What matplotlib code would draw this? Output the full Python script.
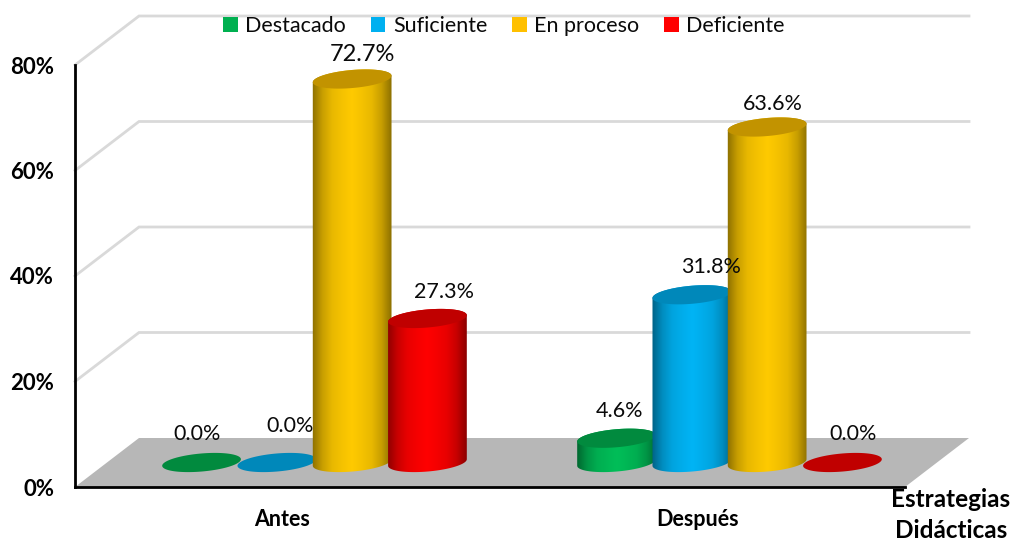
import numpy as np
import matplotlib
matplotlib.use("Agg")
import matplotlib.pyplot as plt
from matplotlib.colors import LinearSegmentedColormap
from matplotlib.patches import Polygon, Rectangle

plt.rcParams["font.family"] = ["Lato", "DejaVu Sans"]

categories = ["Antes", "Después"]
series_names = ["Destacado", "Suficiente", "En proceso", "Deficiente"]
antes = [0.0, 0.0, 72.7, 27.3]
despues = [4.6, 31.8, 63.6, 0.0]
y_ticks = [0, 20, 40, 60, 80]

side_colors = ["#00BE58", "#00B4F5", "#FFCA00", "#FF0000"]
top_colors = ["#018A3E", "#0088BA", "#C29300", "#C00000"]

# label offsets from the top of each cylinder, in pixels
antes_label_px = [(-4, 28), (13, 36), (10, 25), (17, 26)]
despues_label_px = [(3, 27), (19, 28), (6, 23), (11, 28)]

W, H = 1014, 541
PX_X = 2 / 830  # data units per pixel
PX_Y = 80 / 422
DEPTH_X, DEPTH_Y = 64 * PX_X, 49 * PX_Y
BAR_STEP = 75.3 * PX_X
A_PX, B_PX, TILT = 39.5, 9.0, np.radians(5)

fig = plt.figure(figsize=(W / 100, H / 100), dpi=100)
ax = fig.add_axes([75 / W, (H - 487) / H, 830 / W, 422 / H])
ax.set_facecolor("none")


def ellipse_xy(cx, cy, t):
    px = A_PX * np.cos(t) * np.cos(TILT) - B_PX * np.sin(t) * np.sin(TILT)
    py = A_PX * np.cos(t) * np.sin(TILT) + B_PX * np.sin(t) * np.cos(TILT)
    return np.column_stack([cx + px * PX_X, cy + py * PX_Y])


def draw_cylinder(cx, value, side, top, z):
    base = DEPTH_Y / 2
    t_right = np.arctan2(-B_PX * np.sin(TILT), A_PX * np.cos(TILT))
    t_all = np.linspace(0, 2 * np.pi, 120)
    if value > 0:
        lower = ellipse_xy(cx, base, np.linspace(t_right - np.pi, t_right, 60))
        upper = ellipse_xy(cx, base + value, np.linspace(t_right, t_right + np.pi, 60))
        body = Polygon(np.vstack([lower, upper]), closed=True, transform=ax.transData,
                       fc="none", ec="none")
        ax.add_patch(body)
        rgb = np.array(matplotlib.colors.to_rgb(side))
        shades = [0.55, 0.78, 0.91, 0.96, 1, 0.96, 0.91, 0.78, 0.55]
        cmap = LinearSegmentedColormap.from_list("cyl", [rgb * s for s in shades])
        im = ax.imshow(
            np.linspace(0, 1, 200)[None, :], cmap=cmap, aspect="auto", zorder=z,
            extent=[cx - 40 * PX_X, cx + 40 * PX_X, base - 12 * PX_Y, base + value + 12 * PX_Y],
        )
        im.set_clip_path(body)
    ax.add_patch(Polygon(ellipse_xy(cx, base + value, t_all), closed=True,
                         fc=top, ec="none", zorder=z + 0.1))
    return base + value + B_PX * PX_Y


# back wall grid lines
for v in y_ticks[1:]:
    ax.plot([0, DEPTH_X, 2 + DEPTH_X], [v, v + DEPTH_Y, v + DEPTH_Y], color="#D9D9D9",
            lw=2, clip_on=False, zorder=1, solid_joinstyle="miter")

# floor
ax.add_patch(Polygon([(0, 0), (DEPTH_X, DEPTH_Y), (2 + DEPTH_X, DEPTH_Y), (2, 0)],
                     closed=True, fc="#B7B7B7", ec="none", clip_on=False, zorder=1))

for i, (vals, offs) in enumerate([(antes, antes_label_px), (despues, despues_label_px)]):
    centre = i + 0.5 + DEPTH_X / 2
    for j, (value, off) in enumerate(zip(vals, offs)):
        cx = centre + (j - 1.5) * BAR_STEP
        top = draw_cylinder(cx, value, side_colors[j], top_colors[j], 3 + j)
        ax.annotate(f"{value:.1f}%", (cx, top - B_PX * PX_Y), xytext=off,
                    textcoords="offset pixels", ha="center", va="center",
                    fontsize=17 if (i == 0 and j == 2) else 15.5, color="#0A0A0A",
                    annotation_clip=False, zorder=10)

ax.set_xlim(0, 2)
ax.set_ylim(0, 80)
ax.set_yticks(y_ticks)
ax.set_yticklabels([f"{v}%" for v in y_ticks], fontsize=16, fontweight="bold")
ax.set_xticks([0.5, 1.5])
ax.set_xticklabels(categories, fontsize=15.5, fontweight="bold")
ax.tick_params(axis="both", length=0)
ax.tick_params(axis="x", pad=16)
ax.tick_params(axis="y", pad=15)
for s in ["top", "right"]:
    ax.spines[s].set_visible(False)
for s in ["left", "bottom"]:
    ax.spines[s].set_linewidth(2)
    ax.spines[s].set_color("black")
    ax.spines[s].set_zorder(2)

ax.text((951 - 75) * PX_X, -1 * PX_Y, "Estrategias\nDidácticas", ha="center", va="top",
        fontsize=17.5, fontweight="bold", linespacing=1.4, clip_on=False)

handles = [Rectangle((0, 0), 1, 1, fc=c, ec="none") for c in ["#00B050", "#00B0F0", "#FFC000", "#FF0000"]]
fig.legend(handles, series_names, loc="center", bbox_to_anchor=(504 / W, (H - 26) / H), ncol=4,
           frameon=False, fontsize=15.5, handlelength=0.68, handleheight=0.68, handletextpad=0.35,
           columnspacing=1.15, borderpad=0, labelcolor="#0A0A0A")

fig.savefig("out.png", dpi=100)
